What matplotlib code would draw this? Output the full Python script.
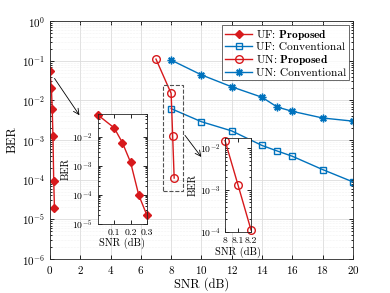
import numpy as np
import matplotlib
matplotlib.use("Agg")
import matplotlib.pyplot as plt
from matplotlib.patches import Rectangle

plt.rcParams["font.family"] = "serif"
plt.rcParams["font.serif"] = ["cmr10", "DejaVu Serif"]
plt.rcParams["mathtext.fontset"] = "cm"
plt.rcParams["axes.formatter.use_mathtext"] = True
plt.rcParams["axes.unicode_minus"] = False

RED = "#d7191c"
BLUE = "#0072bd"

# UF: proposed (single scheme, near 0 dB)
uf_prop_snr = [0, 0.1, 0.15, 0.2, 0.25, 0.3]
uf_prop_ber = [0.056, 0.020, 0.0062, 0.0013, 9.5e-5, 1.9e-5]
# UF: conventional
uf_conv_snr = [8, 10, 12, 14, 15, 16, 18, 20]
uf_conv_ber = [0.0062, 0.0029, 0.0017, 7.3e-4, 5.3e-4, 3.9e-4, 1.8e-4, 8.8e-5]
# UN: proposed
un_prop_snr = [7, 8, 8.1, 8.2]
un_prop_ber = [0.11, 0.015, 0.0013, 1.1e-4]
# UN: conventional
un_conv_snr = [8, 10, 12, 14, 15, 16, 18, 20]
un_conv_ber = [0.104, 0.044, 0.022, 0.012, 0.0068, 0.0053, 0.0036, 0.0030]

x_ticks = list(range(0, 21, 2))

fig = plt.figure(figsize=(3.9, 2.93), dpi=100)
ax = fig.add_axes([0.128, 0.116, 0.777, 0.812])


def style_axes(a, grid=True, fs=8):
    a.set_yscale("log")
    a.tick_params(which="both", direction="in", top=True, right=True, labelsize=fs, width=0.6)
    a.tick_params(which="major", length=3)
    a.tick_params(which="minor", length=1.5)
    for s in a.spines.values():
        s.set_linewidth(0.6)
        s.set_color("#262626")
    if grid:
        a.grid(True, which="major", color="#dcdcdc", lw=0.6)
        a.grid(True, which="minor", color="#e6e6e6", lw=0.4, ls=":")
        a.set_axisbelow(True)


style_axes(ax)
kw = dict(lw=1.0)
ax.plot(uf_prop_snr, uf_prop_ber, color=RED, marker="D", ms=4.5, mfc=RED, mec=RED,
        label=r"UF: $\mathbf{Proposed}$", **kw)
ax.plot(uf_conv_snr, uf_conv_ber, color=BLUE, marker="s", ms=5, mfc="none", mec=BLUE,
        label="UF: Conventional", **kw)
ax.plot(un_prop_snr, un_prop_ber, color=RED, marker="o", ms=5.5, mfc="none", mec=RED,
        label=r"UN: $\mathbf{Proposed}$", **kw)
ax.plot(un_conv_snr, un_conv_ber, color=BLUE, marker=(8, 2, 0), ms=5.5, mec=BLUE,
        label="UN: Conventional", **kw)

ax.set_xlim(0, 20)
ax.set_ylim(1e-6, 1)
ax.set_xticks(x_ticks)
ax.set_yticks([10.0 ** k for k in range(-6, 1)])
ax.set_xlabel("SNR (dB)", fontsize=9, labelpad=1)
ax.set_ylabel("BER", fontsize=9, labelpad=2)

leg = ax.legend(loc="upper right", fontsize=8.2, frameon=True, fancybox=False,
                edgecolor="#262626", borderpad=0.25, labelspacing=0.05,
                handlelength=2.4, handletextpad=0.3, borderaxespad=0.35)
leg.get_frame().set_linewidth(0.6)

# dashed box around the UN proposed drop
ax.add_patch(Rectangle((7.45, 5.1e-5), 1.35, 0.025 - 5.1e-5, fill=False,
                       ls="--", lw=0.8, ec="#505050", zorder=5))

# arrows to insets
ax.annotate("", xy=(2.05, 0.0037), xytext=(0.2, 0.041),
            arrowprops=dict(arrowstyle="->", lw=0.6, color="black"))
ax.annotate("", xy=(10.1, 3.3e-4), xytext=(8.8, 0.0015),
            arrowprops=dict(arrowstyle="->", lw=0.6, color="black"))

# inset 1: UF proposed
ax1 = fig.add_axes([0.2505, 0.237, 0.1264, 0.374])
style_axes(ax1, grid=False, fs=7)
ax1.plot(uf_prop_snr, uf_prop_ber, color=RED, marker="D", ms=4.5, mfc=RED, mec=RED,
         clip_on=False, **kw)
ax1.set_xlim(0, 0.3)
ax1.set_ylim(1e-5, 0.06)
ax1.set_xticks([0.1, 0.2, 0.3])
ax1.set_xticklabels(["0.1", "0.2", "0.3"])
ax1.set_yticks([1e-5, 1e-4, 1e-3, 1e-2])
ax1.set_xlabel("SNR (dB)", fontsize=7.5, labelpad=1)
ax1.set_ylabel("BER", fontsize=7.5, labelpad=1)

# inset 2: UN proposed (zoomed part only, from 8 dB on)
ax2 = fig.add_axes([0.577, 0.209, 0.0667, 0.319])
style_axes(ax2, grid=False, fs=7)
ax2.plot(un_prop_snr[1:], un_prop_ber[1:], color=RED, marker="o", ms=5.5, mfc="none",
         mec=RED, clip_on=False, **kw)
ax2.set_xlim(8, 8.2)
ax2.set_ylim(1e-4, 0.017)
ax2.set_xticks([8, 8.1, 8.2])
ax2.set_xticklabels(["8", "8.1", "8.2"])
ax2.set_yticks([1e-4, 1e-3, 1e-2])
ax2.set_xlabel("SNR (dB)", fontsize=7.5, labelpad=1)
ax2.set_ylabel("BER", fontsize=7.5, labelpad=1)

fig.savefig("out.png", dpi=100)
